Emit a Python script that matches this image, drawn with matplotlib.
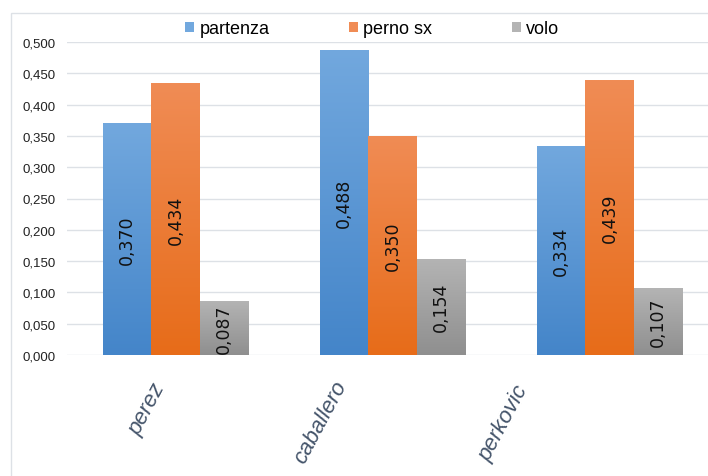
"""Grouped bar chart: partenza / perno sx / volo per player."""

import matplotlib

matplotlib.use("Agg")
import matplotlib.pyplot as plt
import matplotlib.ticker as mticker
import matplotlib.transforms as mtransforms
import numpy as np
from matplotlib.colors import LinearSegmentedColormap
from matplotlib.patches import Rectangle

# ── data ─────────────────────────────────────────────────────────────
players = ["perez", "caballero", "perkovic"]
series = ["partenza", "perno sx", "volo"]
partenza = [0.370, 0.488, 0.334]
perno_sx = [0.434, 0.350, 0.439]
volo = [0.087, 0.154, 0.107]
y_ticks = [0.0, 0.05, 0.10, 0.15, 0.20, 0.25, 0.30, 0.35, 0.40, 0.45, 0.50]

# ── style ────────────────────────────────────────────────────────────
SANS = ["Liberation Sans", "DejaVu Sans"]
GRADIENTS = [
    ("#4485c9", "#72a8de"),  # blue  (bottom, top)
    ("#e76c19", "#f08c55"),  # orange
    ("#8f8f8f", "#b4b4b4"),  # gray
]
GRID = "#dde1e6"

W, H = 708, 477
fig = plt.figure(figsize=(W / 100, H / 100), dpi=100)
fig.patch.set_facecolor("white")

# outer chart frame (only left and top edges are visible)
fig.patches.append(
    Rectangle(
        (11 / W, -0.1),
        1.2,
        1.1 - 14 / H,
        transform=fig.transFigure,
        facecolor="none",
        edgecolor=GRID,
        lw=1,
        zorder=0,
    )
)

ax = fig.add_axes([67 / W, (H - 356) / H, 651 / W, 313 / H])
ax.set_facecolor("none")

x = np.arange(len(players))
bw = 0.224
values = [partenza, perno_sx, volo]

for i, (name, vals) in enumerate(zip(series, values)):
    bottom_c, top_c = GRADIENTS[i]
    cmap = LinearSegmentedColormap.from_list(name, [bottom_c, top_c])
    bars = ax.bar(
        x + (i - 1) * bw, vals, bw, color=top_c, label=name, zorder=2, lw=0
    )
    for bar, v in zip(bars, vals):
        x0 = bar.get_x()
        x1 = x0 + bar.get_width()
        h = bar.get_height()
        grad = np.linspace(0, 1, 256).reshape(-1, 1)
        im = ax.imshow(
            grad,
            extent=(x0, x1, 0, h),
            origin="lower",
            aspect="auto",
            cmap=cmap,
            zorder=3,
        )
        im.set_clip_path(bar)
        ax.text(
            x0 + bw / 2,
            h / 2,
            f"{v:.3f}".replace(".", ","),
            rotation=90,
            ha="center",
            va="center",
            fontsize=12.5,
            color="#111111",
            family="DejaVu Sans",
            zorder=4,
        )

ax.set_xlim(-0.5, len(players) - 0.5)
ax.set_ylim(0, 0.5)
ax.set_yticks(y_ticks)
ax.yaxis.set_major_formatter(
    mticker.FuncFormatter(lambda v, _: f"{v:.3f}".replace(".", ","))
)
ax.yaxis.grid(True, color=GRID, lw=1)
ax.set_axisbelow(True)
for s in ax.spines.values():
    s.set_visible(False)
ax.tick_params(axis="y", length=0, pad=8, labelsize=9.5, labelcolor="#222222")
for lbl in ax.get_yticklabels():
    lbl.set_family(SANS)

# x labels: rotated, italic, shifted like the original
ax.set_xticks(x)
ax.set_xticklabels(players)
ax.tick_params(axis="x", length=0, pad=0)
label_shift = [(-28, -54), (-72, -67), (-106, -67)]
for lbl, (dx, dy) in zip(ax.get_xticklabels(), label_shift):
    lbl.set_rotation(62)
    lbl.set_rotation_mode("anchor")
    lbl.set_ha("center")
    lbl.set_va("center")
    lbl.set_fontstyle("italic")
    lbl.set_fontsize(16)
    lbl.set_family(SANS)
    lbl.set_color("#44546a")
    lbl.set_transform(
        lbl.get_transform()
        + mtransforms.ScaledTranslation(dx / 100, dy / 100, fig.dpi_scale_trans)
    )

handles = [
    Rectangle((0, 0), 1, 1, facecolor=GRADIENTS[i][1]) for i in range(len(series))
]
fig.legend(
    handles,
    series,
    loc="center left",
    bbox_to_anchor=(185 / W, 1 - 30 / H),
    ncol=3,
    frameon=False,
    borderpad=0,
    borderaxespad=0,
    handlelength=0.5,
    handleheight=0.5,
    handletextpad=0.3,
    columnspacing=4.4,
    prop={"family": SANS, "size": 13},
)

fig.savefig("out.png", dpi=100)
